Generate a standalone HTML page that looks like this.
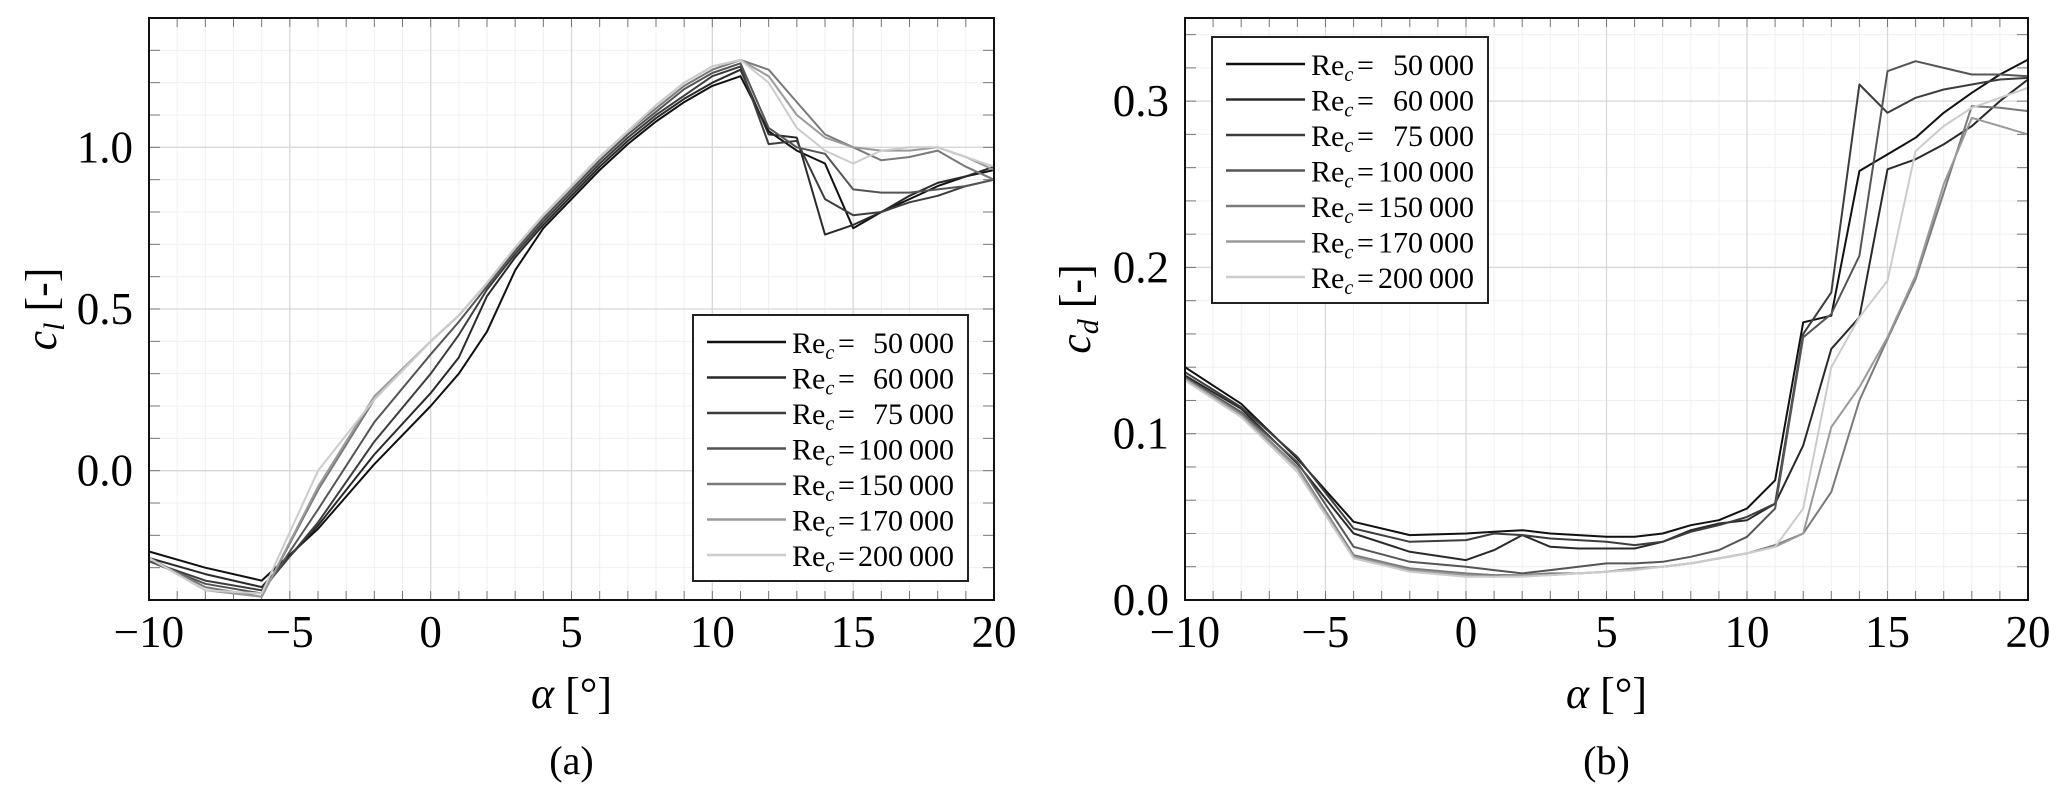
<!DOCTYPE html>
<html><head><meta charset="utf-8"><style>
html,body{margin:0;padding:0;background:#fff;}
svg{display:block;font-family:"Liberation Serif",serif;}
</style></head><body>
<svg id="fig" width="2067" height="801" viewBox="0 0 2067 801" xmlns="http://www.w3.org/2000/svg">
</svg>
<script>
const alpha = [-10,-8,-6,-4,-2,0,1,2,3,4,5,6,7,8,9,10,11,12,13,14,15,16,17,18,19,20];
const reLabels = ["50\u2009000","60\u2009000","75\u2009000","100\u2009000","150\u2009000","170\u2009000","200\u2009000"];
const reNames = ["re-50000","re-60000","re-75000","re-100000","re-150000","re-170000","re-200000"];
const clRe50k  = [-0.25,-0.30,-0.34,-0.18,0.02,0.20,0.30,0.43,0.62,0.75,0.84,0.93,1.01,1.08,1.14,1.19,1.22,1.05,0.99,0.95,0.75,0.80,0.84,0.88,0.91,0.93];
const clRe60k  = [-0.27,-0.32,-0.36,-0.17,0.05,0.24,0.35,0.54,0.66,0.76,0.85,0.94,1.02,1.09,1.15,1.20,1.24,1.04,1.03,0.73,0.76,0.80,0.85,0.89,0.91,0.94];
const clRe75k  = [-0.28,-0.34,-0.37,-0.16,0.09,0.30,0.42,0.56,0.67,0.77,0.86,0.95,1.03,1.10,1.16,1.22,1.25,1.01,1.02,0.84,0.79,0.80,0.83,0.85,0.88,0.90];
const clRe100k = [-0.28,-0.35,-0.38,-0.12,0.15,0.36,0.46,0.57,0.68,0.78,0.87,0.96,1.04,1.11,1.18,1.23,1.26,1.06,1.00,0.98,0.87,0.86,0.86,0.87,0.88,0.90];
const clRe150k = [-0.27,-0.36,-0.39,-0.06,0.22,0.40,0.48,0.58,0.69,0.79,0.88,0.97,1.05,1.12,1.19,1.24,1.27,1.24,1.14,1.04,1.00,0.96,0.97,0.99,0.94,0.90];
const clRe170k = [-0.27,-0.37,-0.39,-0.05,0.23,0.40,0.48,0.58,0.69,0.79,0.88,0.97,1.05,1.13,1.20,1.25,1.27,1.22,1.10,1.03,1.00,0.99,0.99,1.00,0.97,0.93];
const clRe200k = [-0.27,-0.37,-0.38,0.00,0.22,0.40,0.48,0.58,0.69,0.79,0.88,0.97,1.05,1.13,1.20,1.25,1.27,1.20,1.06,0.99,0.95,0.99,1.00,1.00,0.97,0.94];
const cdRe50k  = [0.140,0.118,0.085,0.047,0.039,0.040,0.041,0.042,0.040,0.039,0.038,0.038,0.040,0.045,0.048,0.055,0.072,0.167,0.171,0.258,0.268,0.278,0.293,0.305,0.316,0.325];
const cdRe60k  = [0.135,0.115,0.082,0.040,0.029,0.024,0.030,0.039,0.032,0.031,0.031,0.031,0.035,0.042,0.046,0.048,0.058,0.093,0.151,0.170,0.259,0.265,0.274,0.285,0.300,0.313];
const cdRe75k  = [0.137,0.116,0.086,0.043,0.035,0.036,0.040,0.039,0.037,0.036,0.035,0.033,0.035,0.041,0.045,0.050,0.058,0.160,0.185,0.310,0.293,0.302,0.307,0.310,0.313,0.314];
const cdRe100k = [0.134,0.113,0.083,0.032,0.023,0.020,0.018,0.016,0.018,0.020,0.022,0.022,0.023,0.026,0.030,0.038,0.055,0.158,0.172,0.207,0.318,0.324,0.320,0.316,0.316,0.315];
const cdRe150k = [0.133,0.112,0.080,0.027,0.019,0.016,0.015,0.015,0.016,0.016,0.017,0.019,0.020,0.022,0.025,0.028,0.033,0.040,0.065,0.120,0.157,0.193,0.245,0.297,0.296,0.294];
const cdRe170k = [0.133,0.111,0.079,0.026,0.018,0.015,0.014,0.015,0.015,0.016,0.017,0.019,0.020,0.022,0.025,0.028,0.032,0.040,0.104,0.128,0.158,0.195,0.250,0.290,0.285,0.280];
const cdRe200k = [0.132,0.110,0.077,0.025,0.017,0.014,0.014,0.014,0.015,0.016,0.017,0.018,0.020,0.022,0.025,0.028,0.032,0.055,0.140,0.170,0.192,0.270,0.285,0.296,0.302,0.308];
const xTicks = [-10,-5,0,5,10,15,20];
const clTicks = [0.0,0.5,1.0];
const cdTicks = [0.0,0.1,0.2,0.3];
const colors = ["#111","#2a2a2a","#3d3d3d","#555","#7a7a7a","#9a9a9a","#cccccc"];

const NS="http://www.w3.org/2000/svg";
const svg=document.getElementById('fig');
function mk(tag,attrs,parent,text){const e=document.createElementNS(NS,tag);for(const k in attrs)e.setAttribute(k,attrs[k]);if(text!==undefined)e.textContent=text;(parent||svg).appendChild(e);return e;}

function panel(o){
  const g=mk('g',{});
  
  
  const X=v=>o.x0+(v-o.xmin)/(o.xmax-o.xmin)*(o.x1-o.x0);
  const Y=v=>o.y1-(v-o.ymin)/(o.ymax-o.ymin)*(o.y1-o.y0);
  for(let v=o.xmin;v<=o.xmax;v+=1){mk('line',{x1:X(v),x2:X(v),y1:o.y0,y2:o.y1,stroke:'#f0f0f0','stroke-width':1},g);}
  for(let i=0;;i++){const v=o.ymin+i*o.minor;if(v>o.ymax+1e-9)break;mk('line',{x1:o.x0,x2:o.x1,y1:Y(v),y2:Y(v),stroke:'#f0f0f0','stroke-width':1},g);}
  xTicks.forEach(v=>mk('line',{x1:X(v),x2:X(v),y1:o.y0,y2:o.y1,stroke:'#d8d8d8','stroke-width':1.3},g));
  o.yt.forEach(v=>mk('line',{x1:o.x0,x2:o.x1,y1:Y(v),y2:Y(v),stroke:'#d8d8d8','stroke-width':1.3},g));
  for(let v=o.xmin;v<=o.xmax;v+=1){mk('line',{x1:X(v),x2:X(v),y1:o.y1,y2:o.y1-9,stroke:'#777','stroke-width':1},g);mk('line',{x1:X(v),x2:X(v),y1:o.y0,y2:o.y0+9,stroke:'#777','stroke-width':1},g);}
  for(let i=0;;i++){const v=o.ymin+i*o.minor;if(v>o.ymax+1e-9)break;mk('line',{x1:o.x0,x2:o.x0+11,y1:Y(v),y2:Y(v),stroke:'#777','stroke-width':1},g);mk('line',{x1:o.x1,x2:o.x1-11,y1:Y(v),y2:Y(v),stroke:'#777','stroke-width':1},g);}
  o.series.forEach((s,i)=>{
    const p=mk('polyline',{points:alpha.map((a,j)=>X(a).toFixed(1)+','+Y(s[j]).toFixed(1)).join(' '),fill:'none',stroke:colors[i],'stroke-width':2,'stroke-linejoin':'round'},g);
    
    
  });
  mk('rect',{x:o.x0,y:o.y0,width:o.x1-o.x0,height:o.y1-o.y0,fill:'none',stroke:'#111','stroke-width':2},g);
  xTicks.forEach(v=>{const t=mk('text',{x:X(v),y:o.y1+47,'font-size':45,'text-anchor':'middle'},g,(v<0?'\u2212':'')+Math.abs(v));
    });
  o.yt.forEach(v=>{const t=mk('text',{x:o.x0-16,y:Y(v)+15,'font-size':45,'text-anchor':'end'},g,v.toFixed(1));
    });
  const xl=mk('text',{x:(o.x0+o.x1)/2,y:708,'font-size':44,'text-anchor':'middle'},g);
  
  mk('tspan',{'font-style':'italic'},xl,'\u03b1');mk('tspan',{},xl,' [\u00b0]');
  const yl=mk('text',{transform:`translate(${o.ylx},${(o.y0+o.y1)/2}) rotate(-90)`,'font-size':44,'text-anchor':'middle'},g);
  
  mk('tspan',{'font-style':'italic'},yl,'c');mk('tspan',{'font-style':'italic','font-size':30,dy:8},yl,o.sub);mk('tspan',{dy:-8},yl,' [-]');
  const cap=mk('text',{x:(o.x0+o.x1)/2,y:774,'font-size':40,'text-anchor':'middle'},g,o.cap);
  
  const lg=mk('g',{},g);
  
  mk('rect',{x:o.lx,y:o.ly,width:o.lw,height:o.lh,fill:'#fff',stroke:'#222','stroke-width':2},lg);
  reLabels.forEach((lab,i)=>{
    const yy=o.ly+27+i*35.5;
    const e=mk('g',{},lg);
    
    mk('line',{x1:o.lx+14,x2:o.lx+93,y1:yy,y2:yy,stroke:colors[i],'stroke-width':2.5},e);
    const t=mk('text',{x:o.lx+99,y:yy+11,'font-size':30},e);
    mk('tspan',{},t,'Re');mk('tspan',{'font-style':'italic','font-size':20,dy:6},t,'c');
    mk('text',{x:o.lx+145,y:yy+11,'font-size':30},e,'=');
    mk('text',{x:o.lx+o.lw-14,y:yy+11,'font-size':30,'text-anchor':'end'},e,lab);
  });
}
panel({name:'lift-chart',pre:'cl',x0:149,x1:994,y0:18,y1:600,xmin:-10,xmax:20,ymin:-0.4,ymax:1.4,minor:0.1,yt:clTicks,
  series:[clRe50k,clRe60k,clRe75k,clRe100k,clRe150k,clRe170k,clRe200k],sub:'l',cap:'(a)',ylx:56,lx:693,ly:315,lw:275,lh:266});
panel({name:'drag-chart',pre:'cd',x0:1185,x1:2028,y0:18,y1:600,xmin:-10,xmax:20,ymin:0,ymax:0.35,minor:0.02,yt:cdTicks,
  series:[cdRe50k,cdRe60k,cdRe75k,cdRe100k,cdRe150k,cdRe170k,cdRe200k],sub:'d',cap:'(b)',ylx:1090,lx:1212,ly:37,lw:276,lh:266});
</script>
</body></html>
